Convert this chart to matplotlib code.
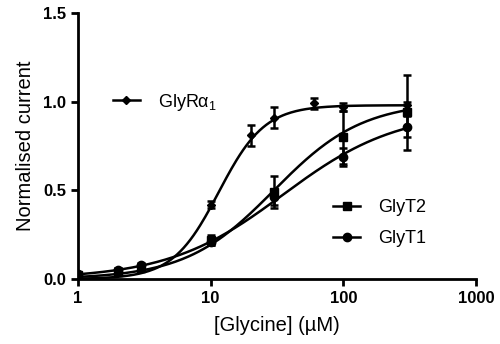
#! /usr/bin/env python3

import numpy as np
from matplotlib import pyplot as plt

plt.rcParams['font.family'] = ['Liberation Sans', 'DejaVu Sans']
plt.rcParams['mathtext.default'] = 'regular'

# glycine concentrations (uM)
conc = [1, 2, 3, 10, 20, 30, 60, 100, 300]
conc_t = [1, 2, 3, 10, 30, 100, 300]

# GlyR alpha1 responses
glyr_mean = [0.02, 0.05, 0.07, 0.42, 0.81, 0.91, 0.99, 0.97, 0.98]
glyr_err = [0.01, 0.01, 0.01, 0.02, 0.06, 0.06, 0.03, 0.02, 0.02]

# transporter responses
glyt2_mean = [0.02, 0.04, 0.06, 0.22, 0.49, 0.80, 0.94]
glyt2_err = [0.01, 0.01, 0.01, 0.03, 0.09, 0.15, 0.21]
glyt1_mean = [0.03, 0.05, 0.08, 0.21, 0.46, 0.69, 0.86]
glyt1_err = [0.01, 0.01, 0.01, 0.02, 0.04, 0.05, 0.06]

# Hill fit parameters: (max, EC50, nH)
fit_glyr = (0.98, 11.5, 2.5)
fit_glyt2 = (1.00, 30.0, 1.3)
fit_glyt1 = (0.95, 35.0, 1.0)


def hill(x, top, ec50, nh):
    return top / (1.0 + (ec50 / x) ** nh)


fig = plt.figure(figsize=(5.0, 3.44), dpi=100)
ax = fig.add_axes([0.156, 0.189, 0.796, 0.773])

xs = np.logspace(0, np.log10(300), 200)

style = dict(color='black', linestyle='none', capsize=3, elinewidth=1.8,
             capthick=1.8)

ax.errorbar(conc, glyr_mean, yerr=glyr_err, marker='D', markersize=4, **style)
ax.errorbar(conc_t, glyt2_mean, yerr=glyt2_err, marker='s', markersize=6, **style)
ax.errorbar(conc_t, glyt1_mean, yerr=glyt1_err, marker='o', markersize=6, **style)

ax.plot(xs, hill(xs, *fit_glyr), color='black', lw=1.8)
ax.plot(xs, hill(xs, *fit_glyt2), color='black', lw=1.8)
ax.plot(xs, hill(xs, *fit_glyt1), color='black', lw=1.8)

ax.set_xscale('log')
ax.set_xlim(1, 1000)
ax.set_ylim(0, 1.5)
ax.set_xticks([1, 10, 100, 1000])
ax.set_xticklabels(['1', '10', '100', '1000'])
ax.set_yticks([0, 0.5, 1.0, 1.5])
ax.set_yticklabels(['0.0', '0.5', '1.0', '1.5'])
ax.minorticks_off()

for s in ['top', 'right']:
    ax.spines[s].set_visible(False)
for s in ['left', 'bottom']:
    ax.spines[s].set_linewidth(2)
ax.tick_params(width=2, length=5, labelsize=12)
for lbl in ax.get_xticklabels() + ax.get_yticklabels():
    lbl.set_fontweight('bold')

ax.set_xlabel('[Glycine] (\u00b5M)', fontsize=14.5, labelpad=7)
ax.set_ylabel('Normalised current', fontsize=14.5, labelpad=6)

# legend handles show the marker on the line
leg_r = ax.legend([plt.Line2D([], [], color='black', lw=1.8, marker='D', markersize=4)],
                  ['GlyR\u03b1$_1$'], loc='center left', bbox_to_anchor=(0.047, 0.665),
                  frameon=False, fontsize=13, handlelength=1.5, handletextpad=1.0)
ax.add_artist(leg_r)
ax.legend([plt.Line2D([], [], color='black', lw=1.8, marker='s', markersize=6),
           plt.Line2D([], [], color='black', lw=1.8, marker='o', markersize=6)],
          ['GlyT2', 'GlyT1'], loc='center left', bbox_to_anchor=(0.60, 0.21),
          frameon=False, fontsize=13, handlelength=1.5, handletextpad=1.0,
          labelspacing=0.75)

fig.savefig('out.png', dpi=100)
